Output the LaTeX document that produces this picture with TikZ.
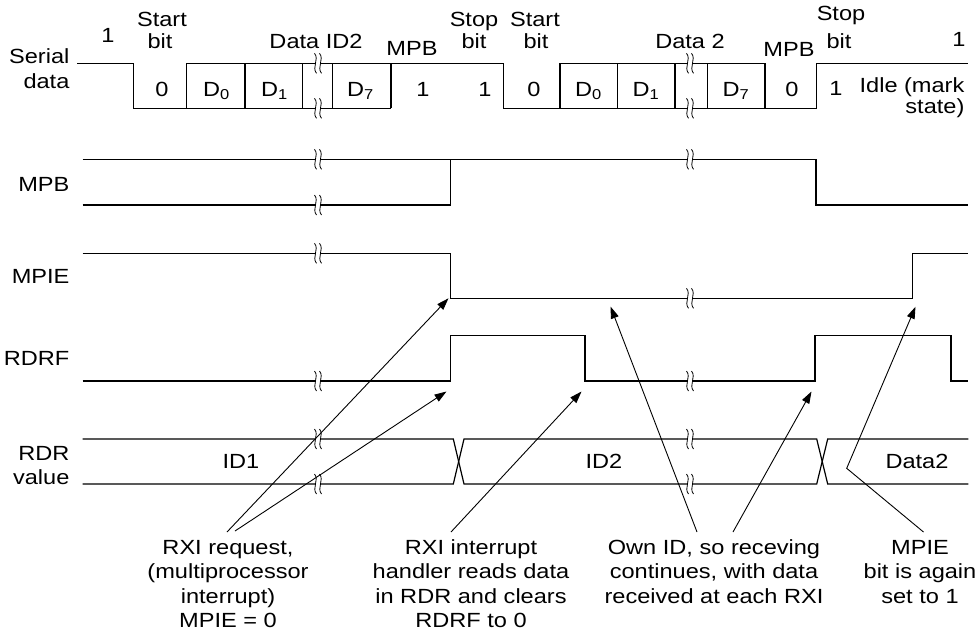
\documentclass[tikz,border=0pt]{standalone}
\usepackage{fontspec}
\setmainfont[FakeStretch=1.15]{Liberation Sans}
\usetikzlibrary{arrows.meta}
\begin{document}
\begin{tikzpicture}[x=1pt,y=-1pt,line width=1.2pt,
  txt/.style={inner sep=0pt,font=\fontsize{20.5}{24.5}\selectfont},
  lbl/.style={txt,anchor=base},
  blk/.style={txt,anchor=base,align=center},
  arr/.style={line width=0.9pt,-{Triangle[length=12pt,width=8pt]}},
  brk/.pic={
    \fill[white] (-3.5,-10) .. controls (1.5,-4) and (-6.5,4) .. (-1.5,10) -- (3.5,10) .. controls (-1.5,4) and (6.5,-4) .. (1.5,-10) -- cycle;
    \draw[line width=0.8pt] (-3.5,-10) .. controls (1.5,-4) and (-6.5,4) .. (-1.5,10);
    \draw[line width=0.8pt] (1.5,-10) .. controls (6.5,-4) and (-1.5,4) .. (3.5,10);
  }]
\useasboundingbox (0,0) rectangle (977,638);

% ---------- signal names ----------
\node[txt,anchor=base east] (nSer1) at (70,63) {Serial};
\node[txt,anchor=base east] (nSer2) at (70,88) {data};
\node[txt,anchor=base east] (nMPB) at (70,191.7) {MPB};
\node[txt,anchor=base east] (nMPIE) at (70,283) {MPIE};
\node[txt,anchor=base east] (nRDRF) at (70,365) {RDRF};
\node[txt,anchor=base east] (nRDR1) at (70,460) {RDR};
\node[txt,anchor=base east] (nRDR2) at (70,484) {value};

% ---------- top labels ----------
\node[lbl] (t1) at (108,42) {1};
\node[lbl] (tStart1) at (162,26) {Start};
\node[lbl] (tBit1) at (160,48) {bit};
\node[lbl] (tData1) at (316,48) {Data ID2};
\node[lbl] (tMPB1) at (412,55) {MPB};
\node[lbl] (tStop1) at (474,26) {Stop};
\node[lbl] (tBit2) at (474,48) {bit};
\node[lbl] (tStart2) at (535,26) {Start};
\node[lbl] (tBit3) at (536,48) {bit};
\node[lbl] (tData2) at (690,48) {Data 2};
\node[lbl] (tMPB2) at (789,56) {MPB};
\node[lbl] (tStop2) at (841,20) {Stop};
\node[lbl] (tBit4) at (839,48) {bit};
\node[lbl] (t2) at (959,46) {1};

% ---------- serial data ----------
\draw (77.3,63.3) -| (133.3,108.3) -- (391,108.3);
\draw (186.7,63.3) -- (503.3,63.3) |- (816.7,108.3) -- (816.7,63.3) -- (968.3,63.3);
\draw (560,63.3) -- (765,63.3);
\foreach \x in {186.7,245,302.7,332.7,391,560,617.3,675,707.3,765}
  \draw (\x,63.3) -- (\x,108.3);
\node[lbl] (b0a) at (162,96) {0};
\node[lbl] (bD0a) at (216.5,96) {D\textsubscript{0}};
\node[lbl] (bD1a) at (274.5,96) {D\textsubscript{1}};
\node[lbl] (bD7a) at (360.5,96) {D\textsubscript{7}};
\node[lbl] (bMa) at (423,96) {1};
\node[lbl] (bSa) at (485,96) {1};
\node[lbl] (b0b) at (534,96) {0};
\node[lbl] (bD0b) at (588.5,96) {D\textsubscript{0}};
\node[lbl] (bD1b) at (646,96) {D\textsubscript{1}};
\node[lbl] (bD7b) at (736,96) {D\textsubscript{7}};
\node[lbl] (bMb) at (792,96) {0};
\node[lbl] (bSb) at (836,95) {1};
\node[txt,anchor=base east] (idle1) at (965,92) {Idle (mark};
\node[txt,anchor=base east] (idle2) at (965,113) {state)};

% ---------- MPB ----------
\draw (82.7,159.3) -- (816,159.3) -- (816,205) -- (968.3,205);
\draw (82.7,205) -- (450.7,205) -- (450.7,159.3);

% ---------- MPIE ----------
\draw (82.7,253.3) -- (450.7,253.3) -- (450.7,298.3) -- (912.7,298.3) -- (912.7,253.3) -- (968.3,253.3);

% ---------- RDRF ----------
\draw (82.7,381) -- (450.7,381) -- (450.7,335.7) -- (585,335.7) -- (585,381) -- (815,381) -- (815,335.7) -- (951,335.7) -- (951,381) -- (968.3,381);

% ---------- RDR value ----------
\draw (82.7,439) -- (453.3,439) -- (464,484) -- (816.7,484) -- (827.7,439) -- (968.3,439);
\draw (82.7,484) -- (453.3,484) -- (464,439) -- (816.7,439) -- (827.7,484) -- (968.3,484);
\node[txt] (vID1) at (241,461.5) {ID1};
\node[txt] (vID2) at (604,461.5) {ID2};
\node[txt] (vData2) at (917,461.5) {Data2};

% ---------- break marks ----------
\foreach \p in {(318,63.3),(318,108.3),(690,63.3),(690,108.3),(318,159.3),(318,205),(690,159.3),(318,253.3),(690,298.3),(318,381),(690,381),(318,439),(318,484),(690,439),(690,484)}
  \pic at \p {brk};

% ---------- annotations (anchor = baseline of last line) ----------
\node[blk] (lab1) at (228,627.5) {RXI request,\\(multiprocessor\\interrupt)\\MPIE = 0};
\node[blk] (lab2) at (471,627.5) {RXI interrupt\\handler reads data\\in RDR and clears\\RDRF to 0};
\node[blk] (lab3) at (714,603) {Own ID, so receving\\continues, with data\\received at each RXI};
\node[blk] (lab4) at (920,603) {MPIE\\bit is again\\set to 1};

\coordinate (s1a) at (227,532);
\coordinate (s1b) at (235,531);
\coordinate (s2) at (451,532);
\coordinate (s3a) at (697,532);
\coordinate (s3b) at (733,532);
\coordinate (s4) at (923.5,532);
\coordinate (k4) at (846.7,468.3);
\coordinate (e1a) at (448.5,298.3);
\coordinate (e1b) at (446.5,391.5);
\coordinate (e2) at (581.5,391.5);
\coordinate (e3a) at (610.5,306.5);
\coordinate (e3b) at (811.5,391.5);
\coordinate (e4) at (915.5,306.7);

\draw[arr] (s1a) -- (e1a);
\draw[arr] (s1b) -- (e1b);
\draw[arr] (s2) -- (e2);
\draw[arr] (s3a) -- (e3a);
\draw[arr] (s3b) -- (e3b);
\draw[arr] (s4) -- (k4) -- (e4);
\end{tikzpicture}
\end{document}
